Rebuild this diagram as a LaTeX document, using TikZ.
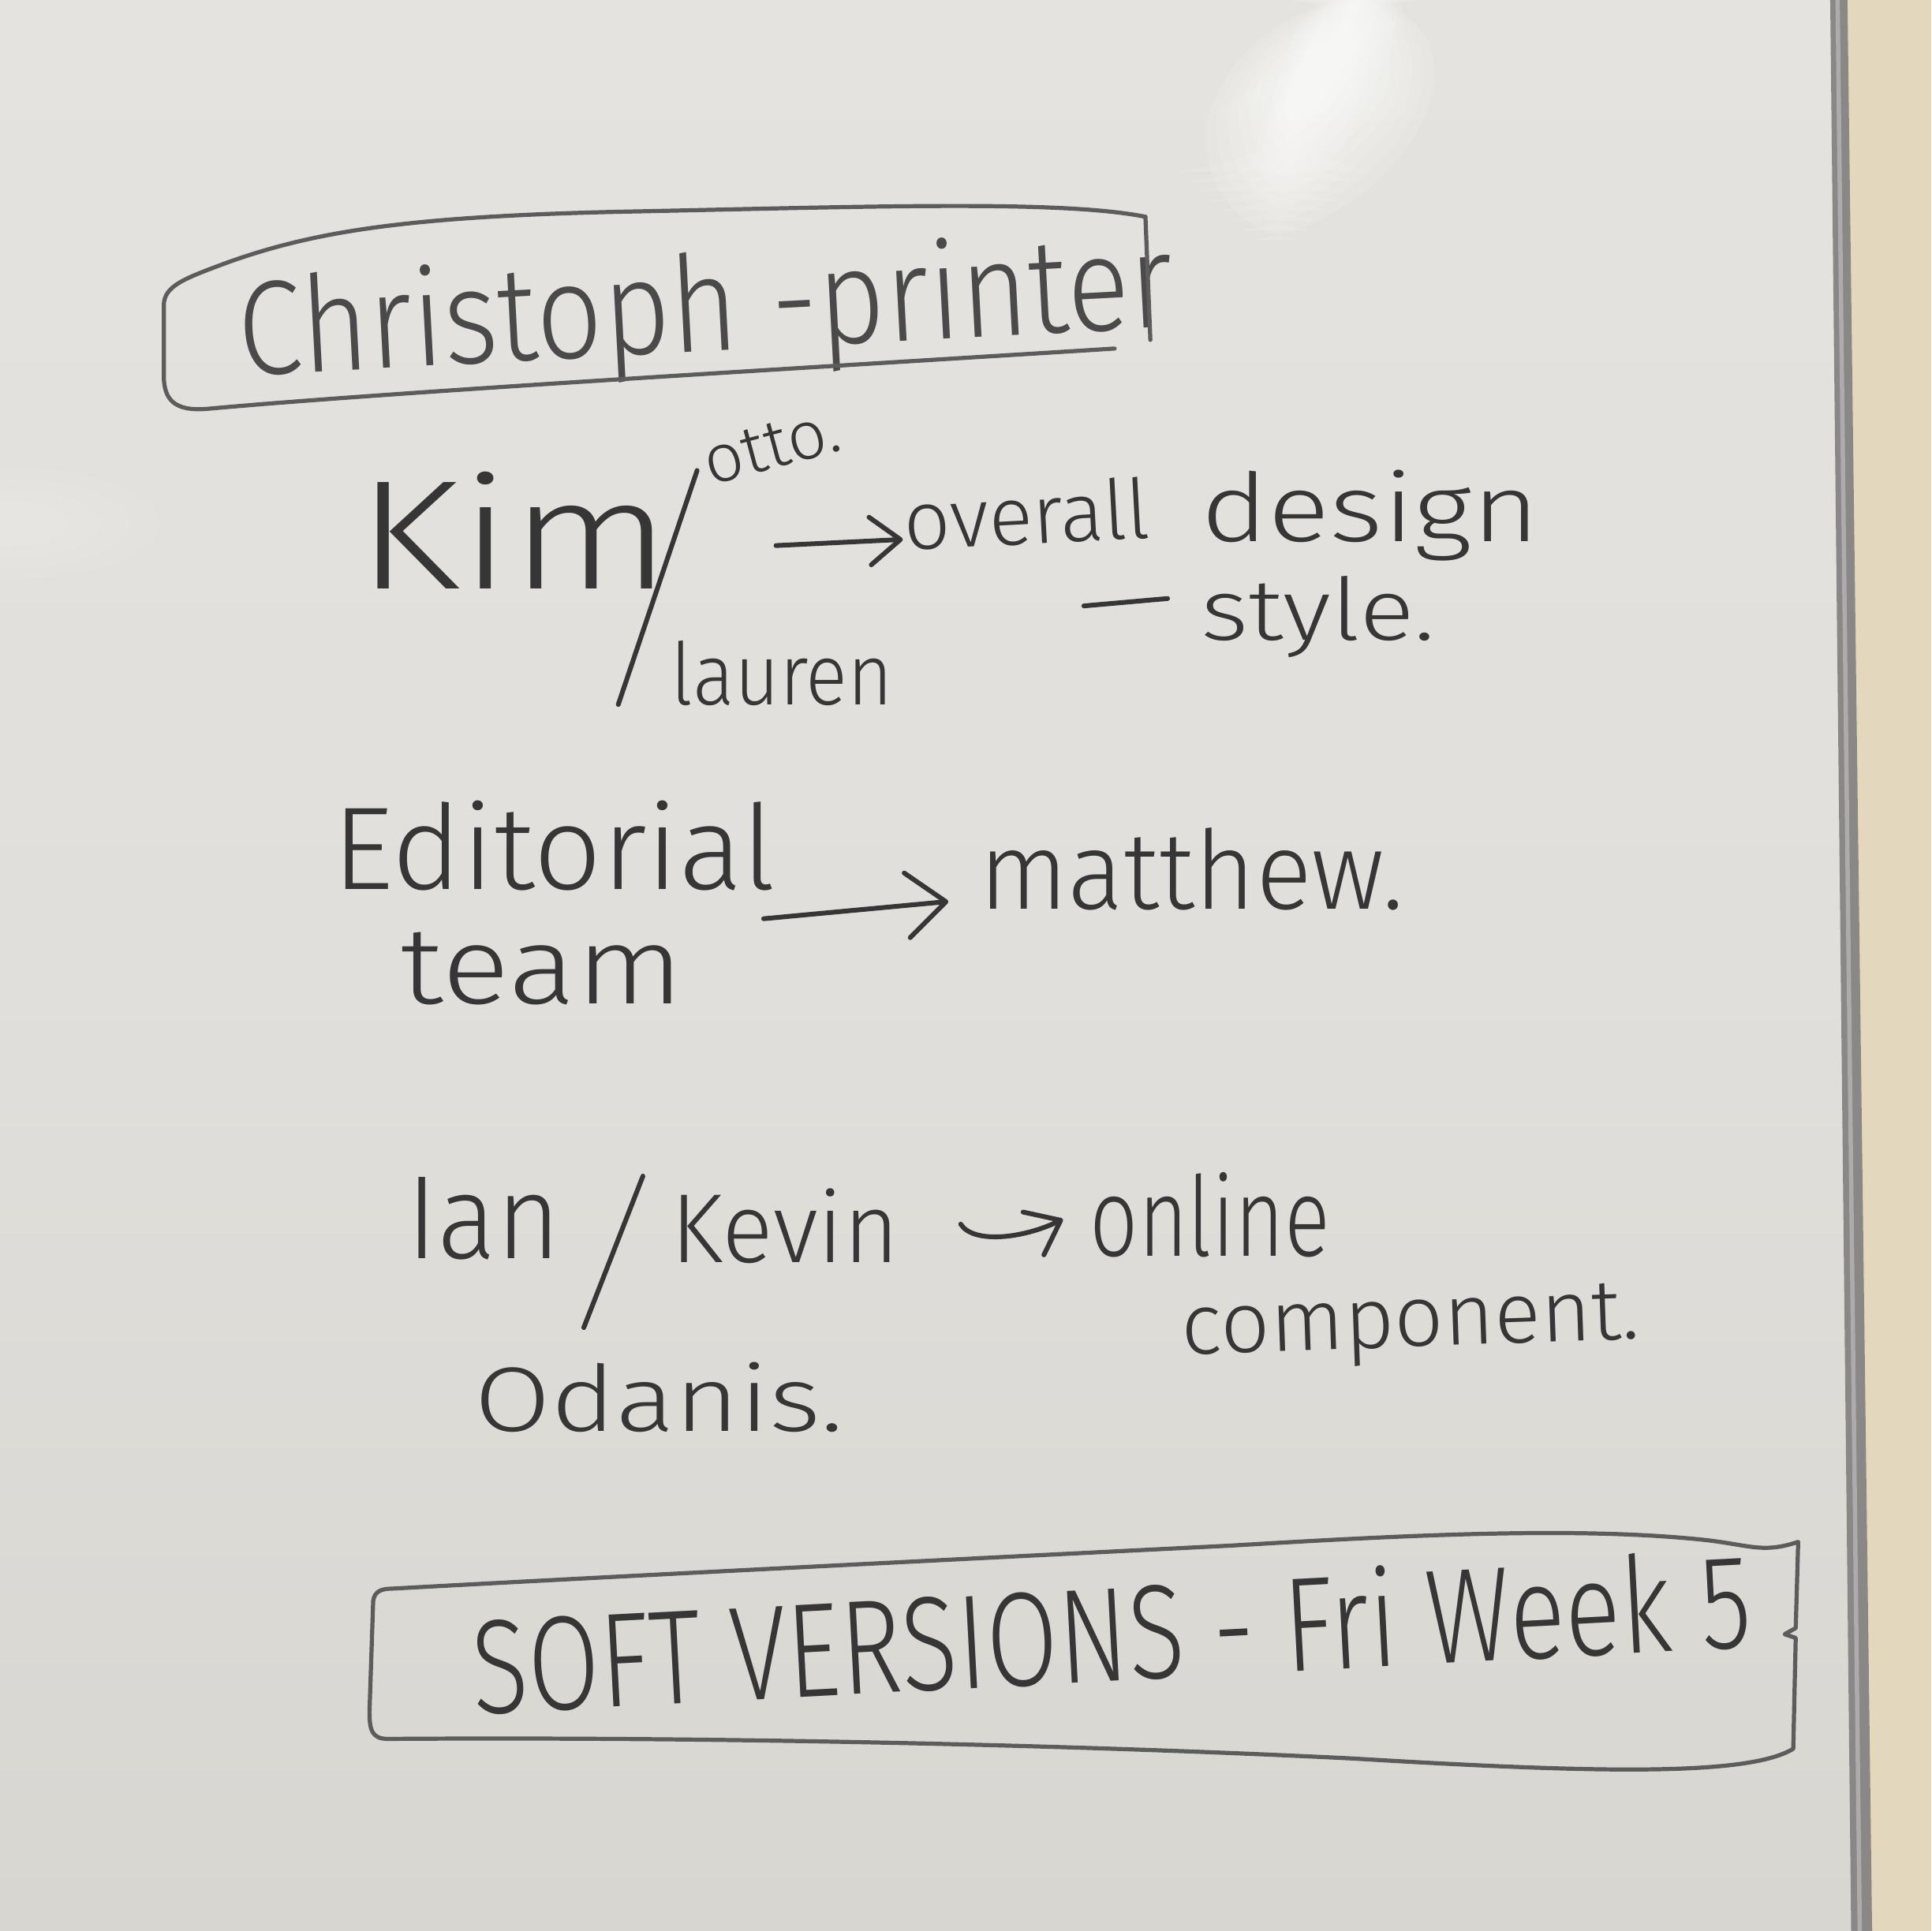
\documentclass[tikz,border=0pt]{standalone}
\usepackage{fontspec}
\setmainfont{Fira Sans Light}
\usetikzlibrary{arrows.meta,calc}

% one drawing unit = 0.01cm
\newlength\pxu
\setlength\pxu{0.01cm}
% text squeezed into a given width and height (in drawing units)
\newcommand\hw[3]{\resizebox{#1\pxu}{#2\pxu}{#3}}

\definecolor{ink}{HTML}{363636}
\definecolor{inksoft}{HTML}{4A4A4A}
\definecolor{boxc}{HTML}{5C5C5C}
\definecolor{boardtop}{HTML}{E5E3DF}
\definecolor{boardmid}{HTML}{E1DFDB}
\definecolor{boardbot}{HTML}{D8D6D1}
\definecolor{wallc}{HTML}{E3D7BD}
\definecolor{framec}{HTML}{8A8887}

\begin{document}
\begin{tikzpicture}[x=0.01cm,y=-0.01cm,
  txt/.style={inner sep=0pt, outer sep=0pt, anchor=base west, text=ink},
  pen/.style={draw=ink, line width=1.1pt, line cap=round, line join=round},
  boxline/.style={draw=boxc, line width=0.95pt, line cap=round, line join=round},
  glow/.style={fill=white, opacity=0.11, rounded corners=#1},
  arrowsmall/.style={pen, -{Straight Barb[length=7pt,width=11pt,round]}},
  arrowbig/.style={pen, -{Straight Barb[length=9pt,width=15pt,round]}}]

\useasboundingbox (0,0) rectangle (1568,1568);

% whiteboard surface
\shade[top color=boardtop, bottom color=boardbot, middle color=boardmid]
  (0,0) rectangle (1510,1568);
% light reflection near the top: stacked soft layers
\foreach \d in {0,8,...,56} {
  \fill[glow=30] (1000+\d,0) -- (1200-\d,0) -- (1110-\d,195-\d) -- (960+\d,195-\d) -- cycle;
}
\foreach \d in {0,10,...,40} {
  \fill[glow=8] (1060+\d/2,0) -- (1150-\d/2,0) -- (1080-\d/2,140-\d) -- (1012+\d/2,145-\d) -- cycle;
}
\foreach \r in {100,80,60,40} {
  \fill[white, opacity=0.06] (10,425) ellipse (\r*1.2 and \r*0.45);
}

% wall and board frame
\fill[wallc] (1498,0) -- (1568,0) -- (1568,1568) -- (1515,1568) -- cycle;
\fill[framec] (1486,0) -- (1500,0) -- (1520,1568) -- (1503,1568) -- cycle;
\draw[white, opacity=0.3, line width=1pt] (1492,0) -- (1510,1568);

% ---- top box: Christoph - printer
\node[txt, text=inksoft, rotate=3] (chris) at (195,305) {\hw{760}{82}{Christoph -printer}};
\draw[boxline] (905,283) .. controls (700,296) and (320,318) .. (168,332)
  .. controls (142,334) and (133,325) .. (133,305) -- (133,248)
  .. controls (133,232) and (150,226) .. (185,213)
  .. controls (255,188) and (330,176) .. (500,172)
  .. controls (700,168) and (860,162) .. (930,176);
\draw[boxline] (930,176) -- (934,276);

% ---- Kim / otto / lauren -> overall design - style
\node[txt] (kim) at (290,478) {\hw{255}{95}{Kim}};
\node[txt, rotate=15] (otto) at (577,394) {\hw{112}{36}{otto.}};
\node[txt] (lauren) at (545,572) {\hw{180}{52}{lauren}};
\coordinate (slashA) at (566,382);
\coordinate (slashB) at (502,572);
\draw[pen] (slashA) -- (slashB);

\node[txt, rotate=3] (over) at (735,447) {\hw{200}{50}{overall}};
\node[txt] (design) at (975,440) {\hw{275}{58}{design}};
\node[txt] (style) at (975,520) {\hw{190}{52}{style.}};
\coordinate (dashA) at (880,492);
\draw[pen] (dashA) -- ($(style.base west)+(-27,-34)$);

\coordinate (kimtail) at (630,443);
\draw[arrowsmall] (kimtail) -- ($(over.base west)+(-2,-9)$);

% ---- Editorial team -> matthew
\node[txt] (edit) at (270,722) {\hw{360}{72}{Editorial}};
\node[txt] (team) at (325,815) {\hw{230}{58}{team}};
\node[txt] (matt) at (795,738) {\hw{345}{66}{matthew.}};
\coordinate (edtail) at (620,746);
\draw[arrowbig] (edtail) -- ($(matt.base west)+(-25,-6)$);

% ---- Ian / Kevin / Odanis -> online component
\node[txt] (ian) at (330,1022) {\hw{125}{66}{Ian}};
\node[txt] (kevin) at (545,1025) {\hw{185}{60}{Kevin}};
\node[txt] (odanis) at (385,1162) {\hw{300}{56}{Odanis.}};
\coordinate (slashC) at (522,955);
\coordinate (slashD) at (474,1078);
\draw[pen] (slashC) -- (slashD);

\node[txt] (online) at (885,1020) {\hw{195}{68}{online}};
\node[txt, rotate=2] (comp) at (960,1100) {\hw{372}{46}{component.}};
\coordinate (ontail) at (780,994);
\draw[arrowsmall] (ontail) .. controls (790,1010) and (830,1006) .. ($(online.base west)+(-22,-30)$);

% ---- bottom box: soft versions deadline
\node[txt, rotate=3] (soft) at (385,1392) {\hw{1040}{82}{SOFT VERSIONS - Fri Week 5}};
\draw[boxline] (318,1290) .. controls (500,1280) and (800,1265) .. (1000,1255)
  .. controls (1150,1246) and (1280,1240) .. (1380,1250)
  .. controls (1420,1254) and (1430,1262) .. (1460,1252)
  -- (1458,1322) -- (1449,1327) -- (1458,1330) -- (1456,1420)
  .. controls (1420,1442) and (1300,1440) .. (1100,1428)
  .. controls (900,1418) and (600,1410) .. (315,1412)
  .. controls (302,1412) and (300,1405) .. (300,1390)
  -- (303,1300) .. controls (304,1292) and (310,1290) .. (318,1290);
\end{tikzpicture}
\end{document}
